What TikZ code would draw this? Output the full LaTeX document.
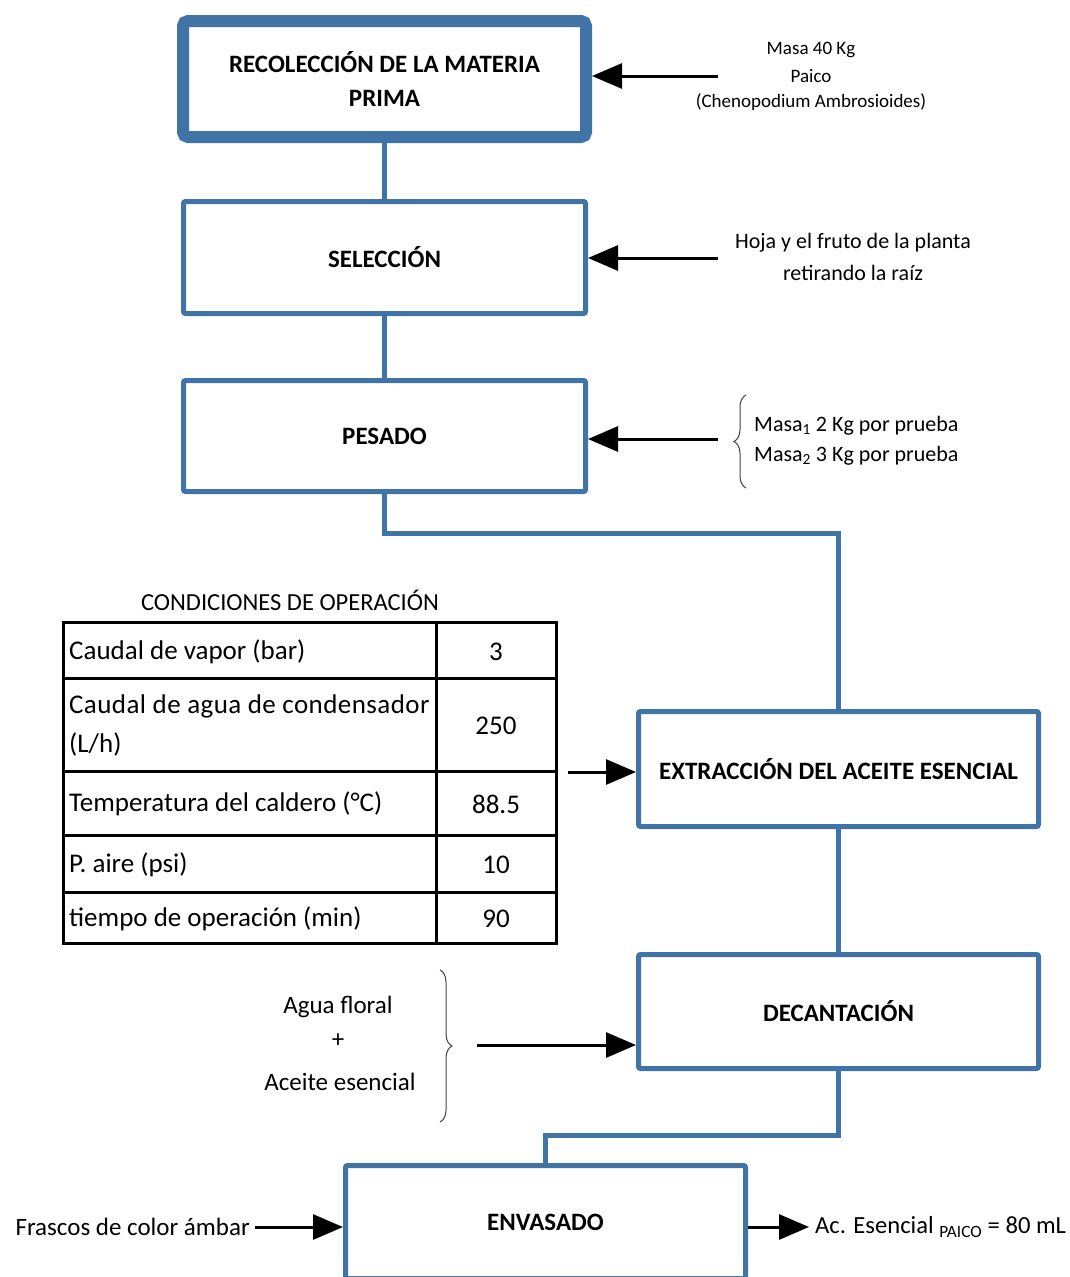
\documentclass[tikz,border=0pt]{standalone}
\usepackage{fontspec}
\setmainfont{Carlito}
\usetikzlibrary{arrows.meta,decorations.pathreplacing}
\definecolor{boxblue}{RGB}{64,116,166}
\begin{document}
\begin{tikzpicture}[x=1pt,y=-1pt,
  procbox/.style={draw=boxblue,line width=5pt,fill=white,rounded corners=2pt,
     minimum width=402pt,minimum height=112pt,inner sep=0pt,align=center,
     font=\fontsize{25}{34}\selectfont\bfseries},
  flow/.style={draw=boxblue,line width=5pt},
  inarrow/.style={draw=black,line width=3pt,-{Triangle[length=30pt,width=25pt]}},
  small/.style={font=\fontsize{19}{26}\selectfont,align=center,inner sep=0pt},
  mid/.style={font=\fontsize{22}{30}\selectfont,align=center,inner sep=0pt},
  big/.style={font=\fontsize{25}{30}\selectfont,align=center,inner sep=0pt},
  cell/.style={font=\fontsize{27}{38}\selectfont,inner sep=0pt,align=left},
  bracestyle/.style={draw=black!75,line width=1pt,decorate,decoration={brace,amplitude=12pt}}
]
\useasboundingbox (0,0) rectangle (1070,1277);

% process boxes
\node[procbox,line width=12pt,rounded corners=5pt,minimum width=403pt,minimum height=116pt] (rec) at (384.5,79) {RECOLECCIÓN DE LA MATERIA\\PRIMA};
\node[procbox] (sel) at (384.5,257.5) {SELECCIÓN};
\node[procbox,minimum height=111pt] (pes) at (384.5,436) {PESADO};
\node[procbox,minimum width=400pt,minimum height=115pt] (ext) at (838.5,769) {EXTRACCIÓN DEL ACEITE ESENCIAL};
\node[procbox,minimum width=400pt,minimum height=114pt] (dec) at (838.5,1011.5) {DECANTACIÓN};
\node[procbox,minimum width=400pt,minimum height=113pt] (env) at (545.5,1222) {ENVASADO};

% flow connectors
\draw[flow] (rec.south) -- (sel.north);
\draw[flow] (sel.south) -- (pes.north);
\draw[flow] (pes.south) -- ++(0,39) -| (ext.north);
\draw[flow] (ext.south) -- (dec.north);
\draw[flow] (dec.south) -- ++(0,64) -| (env.north);

% inputs right
\coordinate (a1) at (718,76);
\draw[inarrow] (a1) -- (a1 -| rec.east);
\node[small] (t1a) at (811,50) {Masa 40 Kg};
\node[small] (t1b) at (811,76) {Paico};
\node[small] (t1c) at (811,102) {(Chenopodium Ambrosioides)};

\coordinate (a2) at (718,258);
\draw[inarrow] (a2) -- (a2 -| sel.east);
\node[mid] (t2a) at (853,243) {Hoja y el fruto de la planta};
\node[mid] (t2b) at (853,273) {retirando la raíz};

\coordinate (a3) at (718,439);
\draw[inarrow] (a3) -- (a3 -| pes.east);
\coordinate (b3t) at (746,395);
\coordinate (b3b) at (746,488);
\draw[bracestyle] (b3b) -- (b3t);
\node[mid,anchor=west] (t3a) at (754,426) {Masa\textsubscript{1} 2 Kg por prueba};
\node[mid,anchor=west] (t3b) at (754,456) {Masa\textsubscript{2} 3 Kg por prueba};

% table
\node[big,font=\fontsize{24.5}{30}\selectfont] (ttl) at (290,600) {CONDICIONES DE OPERACIÓN};
\draw[line width=3pt] (63,622) rectangle (556,943);
\draw[line width=3pt] (436,622) -- (436,943);
\foreach \yy in {678,771,835,892} \draw[line width=3pt] (63,\yy) -- (556,\yy);
\node[cell,anchor=west] (c1) at (69,652) {Caudal de vapor (bar)};
\node[cell,anchor=west] (c2a) at (69,706) {\addfontfeature{LetterSpace=1.6}Caudal de agua de condensador};
\node[cell,anchor=west] (c2b) at (69,744) {(L/h)};
\node[cell,anchor=west] (c3) at (69,804) {Temperatura del caldero (°C)};
\node[cell,anchor=west] (c4) at (69,865) {P. aire (psi)};
\node[cell,anchor=west] (c5) at (69,919) {tiempo de operación (min)};
\node[cell] (v1) at (496,652) {3};
\node[cell] (v2) at (496,726) {250};
\node[cell] (v3) at (496,804) {88.5};
\node[cell] (v4) at (496,865) {10};
\node[cell] (v5) at (496,919) {90};

\coordinate (a4) at (568,772);
\draw[inarrow] (a4) -- (a4 -| ext.west);

% decantation input
\node[big] (t5a) at (338,1007) {Agua floral};
\node[big] (t5b) at (338,1041) {+};
\node[big] (t5c) at (340,1082) {Aceite esencial};
\coordinate (b5t) at (440,970);
\coordinate (b5b) at (440,1122);
\draw[bracestyle] (b5t) -- (b5b);
\coordinate (a5) at (477,1045);
\draw[inarrow] (a5) -- (a5 -| dec.west);

% packaging
\node[big,anchor=east] (t6a) at (250,1227) {Frascos de color ámbar};
\draw[inarrow] (t6a.east) ++(5,0) coordinate (a6) -- (a6 -| env.west);
\node[big,font=\fontsize{24.6}{30}\selectfont,anchor=west] (t6b) at (815,1227) {Ac. Esencial \textsubscript{PAICO} = 80 mL};
\coordinate (a7) at (809,1227);
\draw[inarrow] (env.east |- a7) -- (a7);
\end{tikzpicture}
\end{document}
